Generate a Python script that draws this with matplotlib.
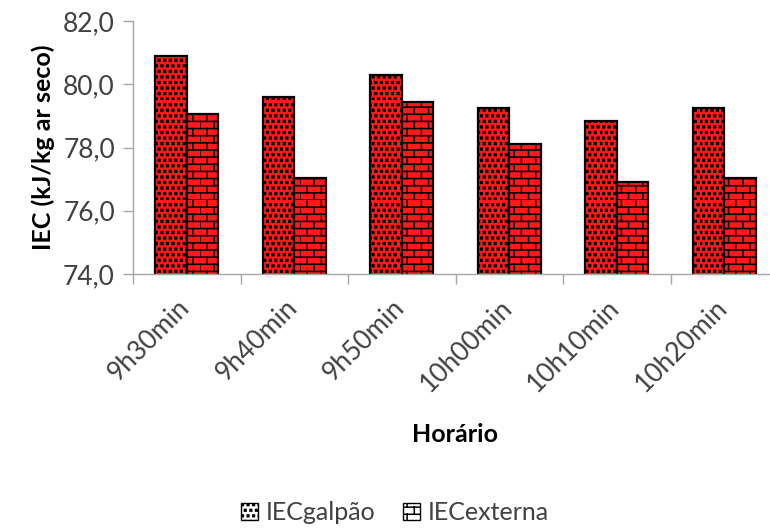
import matplotlib
matplotlib.use('Agg')
import matplotlib.pyplot as plt
import matplotlib.hatch as mhatch
import matplotlib.transforms as mtransforms
from matplotlib.path import Path
from matplotlib.patches import Patch
from matplotlib.ticker import FuncFormatter, MultipleLocator
import numpy as np

# dados
horarios = ['9h30min', '9h40min', '9h50min', '10h00min', '10h10min', '10h20min']
iec_galpao = [80.9, 79.6, 80.3, 79.25, 78.85, 79.25]
iec_externa = [79.05, 77.05, 79.45, 78.1, 76.9, 77.05]


# hachuras tipo Excel: pontos quadrados ('.') e tijolos ('+')
class SquareDots(mhatch.HatchPatternBase):
    rows = 18
    size = 0.3

    def __init__(self, hatch, density):
        self.num_vertices = self.rows * self.rows * 5 if hatch.count('.') else 0

    def set_vertices_and_codes(self, vertices, codes):
        cell = 1.0 / self.rows
        s = cell * self.size
        verts = []
        cds = []
        for r in range(self.rows):
            for c in range(self.rows):
                x = c * cell + (cell / 2 if r % 2 else 0)
                y = r * cell
                verts += [(x, y), (x + s, y), (x + s, y + s), (x, y + s), (x, y)]
                cds += [Path.MOVETO, Path.LINETO, Path.LINETO, Path.LINETO, Path.CLOSEPOLY]
        vertices[:] = verts
        codes[:] = cds


class Bricks(mhatch.HatchPatternBase):
    rows = 14
    cols = 7

    def __init__(self, hatch, density):
        self.num_vertices = (2 * self.rows + 2 * self.rows * self.cols) if hatch.count('+') else 0

    def set_vertices_and_codes(self, vertices, codes):
        verts = []
        for r in range(self.rows):
            y0 = r / self.rows
            y1 = (r + 1) / self.rows
            verts += [(0, y0), (1, y0)]
            shift = 0.5 / self.cols if r % 2 else 0
            for c in range(self.cols):
                x = c / self.cols + shift
                verts += [(x, y0), (x, y1)]
        vertices[:] = verts
        codes[0::2] = Path.MOVETO
        codes[1::2] = Path.LINETO


mhatch._hatch_types = [SquareDots, Bricks]

plt.rcParams['font.family'] = ['Lato', 'DejaVu Sans']
plt.rcParams['hatch.linewidth'] = 1.1

fig = plt.figure(figsize=(7.7, 5.29), dpi=100)
ax = fig.add_axes([133 / 770, 1 - 274 / 529, 645 / 770, 253 / 529])

x = np.arange(len(horarios))
w = 0.293
ax.bar(x - w / 2, iec_galpao, w, color='#ff1a1a', edgecolor='black',
       linewidth=1.6, hatch='.', label='IECgalpão')
ax.bar(x + w / 2, iec_externa, w, color='#ff1a1a', edgecolor='black',
       linewidth=1.6, hatch='+', label='IECexterna')

ax.set_ylim(74, 82)
ax.set_xlim(-0.5, len(horarios) - 0.5)
ax.yaxis.set_major_locator(MultipleLocator(2))
ax.yaxis.set_major_formatter(FuncFormatter(lambda v, p: f'{v:.1f}'.replace('.', ',')))

ax.set_xticks(x)
ax.set_xticklabels(horarios, rotation=45, ha='right', va='center', rotation_mode='anchor')
ax.set_xticks(np.arange(-0.5, len(horarios)), minor=True)
ax.tick_params(axis='x', which='major', length=0, pad=0, labelsize=19, labelcolor='#404040')
ax.tick_params(axis='x', which='minor', length=7, width=1, color='#a6a6a6')
ax.tick_params(axis='y', length=7, width=1, color='#a6a6a6', labelsize=19, labelcolor='#404040', pad=6)
offset = mtransforms.ScaledTranslation(-0.01, -0.30, fig.dpi_scale_trans)
for lbl in ax.get_xticklabels():
    lbl.set_transform(lbl.get_transform() + offset)

for s in ['top', 'right']:
    ax.spines[s].set_visible(False)
for s in ['left', 'bottom']:
    ax.spines[s].set_color('#a6a6a6')
    ax.spines[s].set_linewidth(1)

ax.set_ylabel('IEC (kJ/kg ar seco)', fontsize=18, fontweight='bold', labelpad=6)
fig.text(455 / 770, 1 - 435 / 529, 'Horário', fontsize=18, fontweight='bold',
         ha='center', va='center')

handles = [Patch(facecolor='white', edgecolor='black', hatch='.', linewidth=1),
           Patch(facecolor='white', edgecolor='black', hatch='+', linewidth=1)]
fig.legend(handles, ['IECgalpão', 'IECexterna'], loc='center',
           bbox_to_anchor=(395 / 770, 1 - 513 / 529), ncol=2, frameon=False,
           fontsize=18, handlelength=0.68, handleheight=0.68, handletextpad=0.3,
           columnspacing=1.1, labelcolor='#404040', borderpad=0)

fig.savefig('out.png', dpi=100)
